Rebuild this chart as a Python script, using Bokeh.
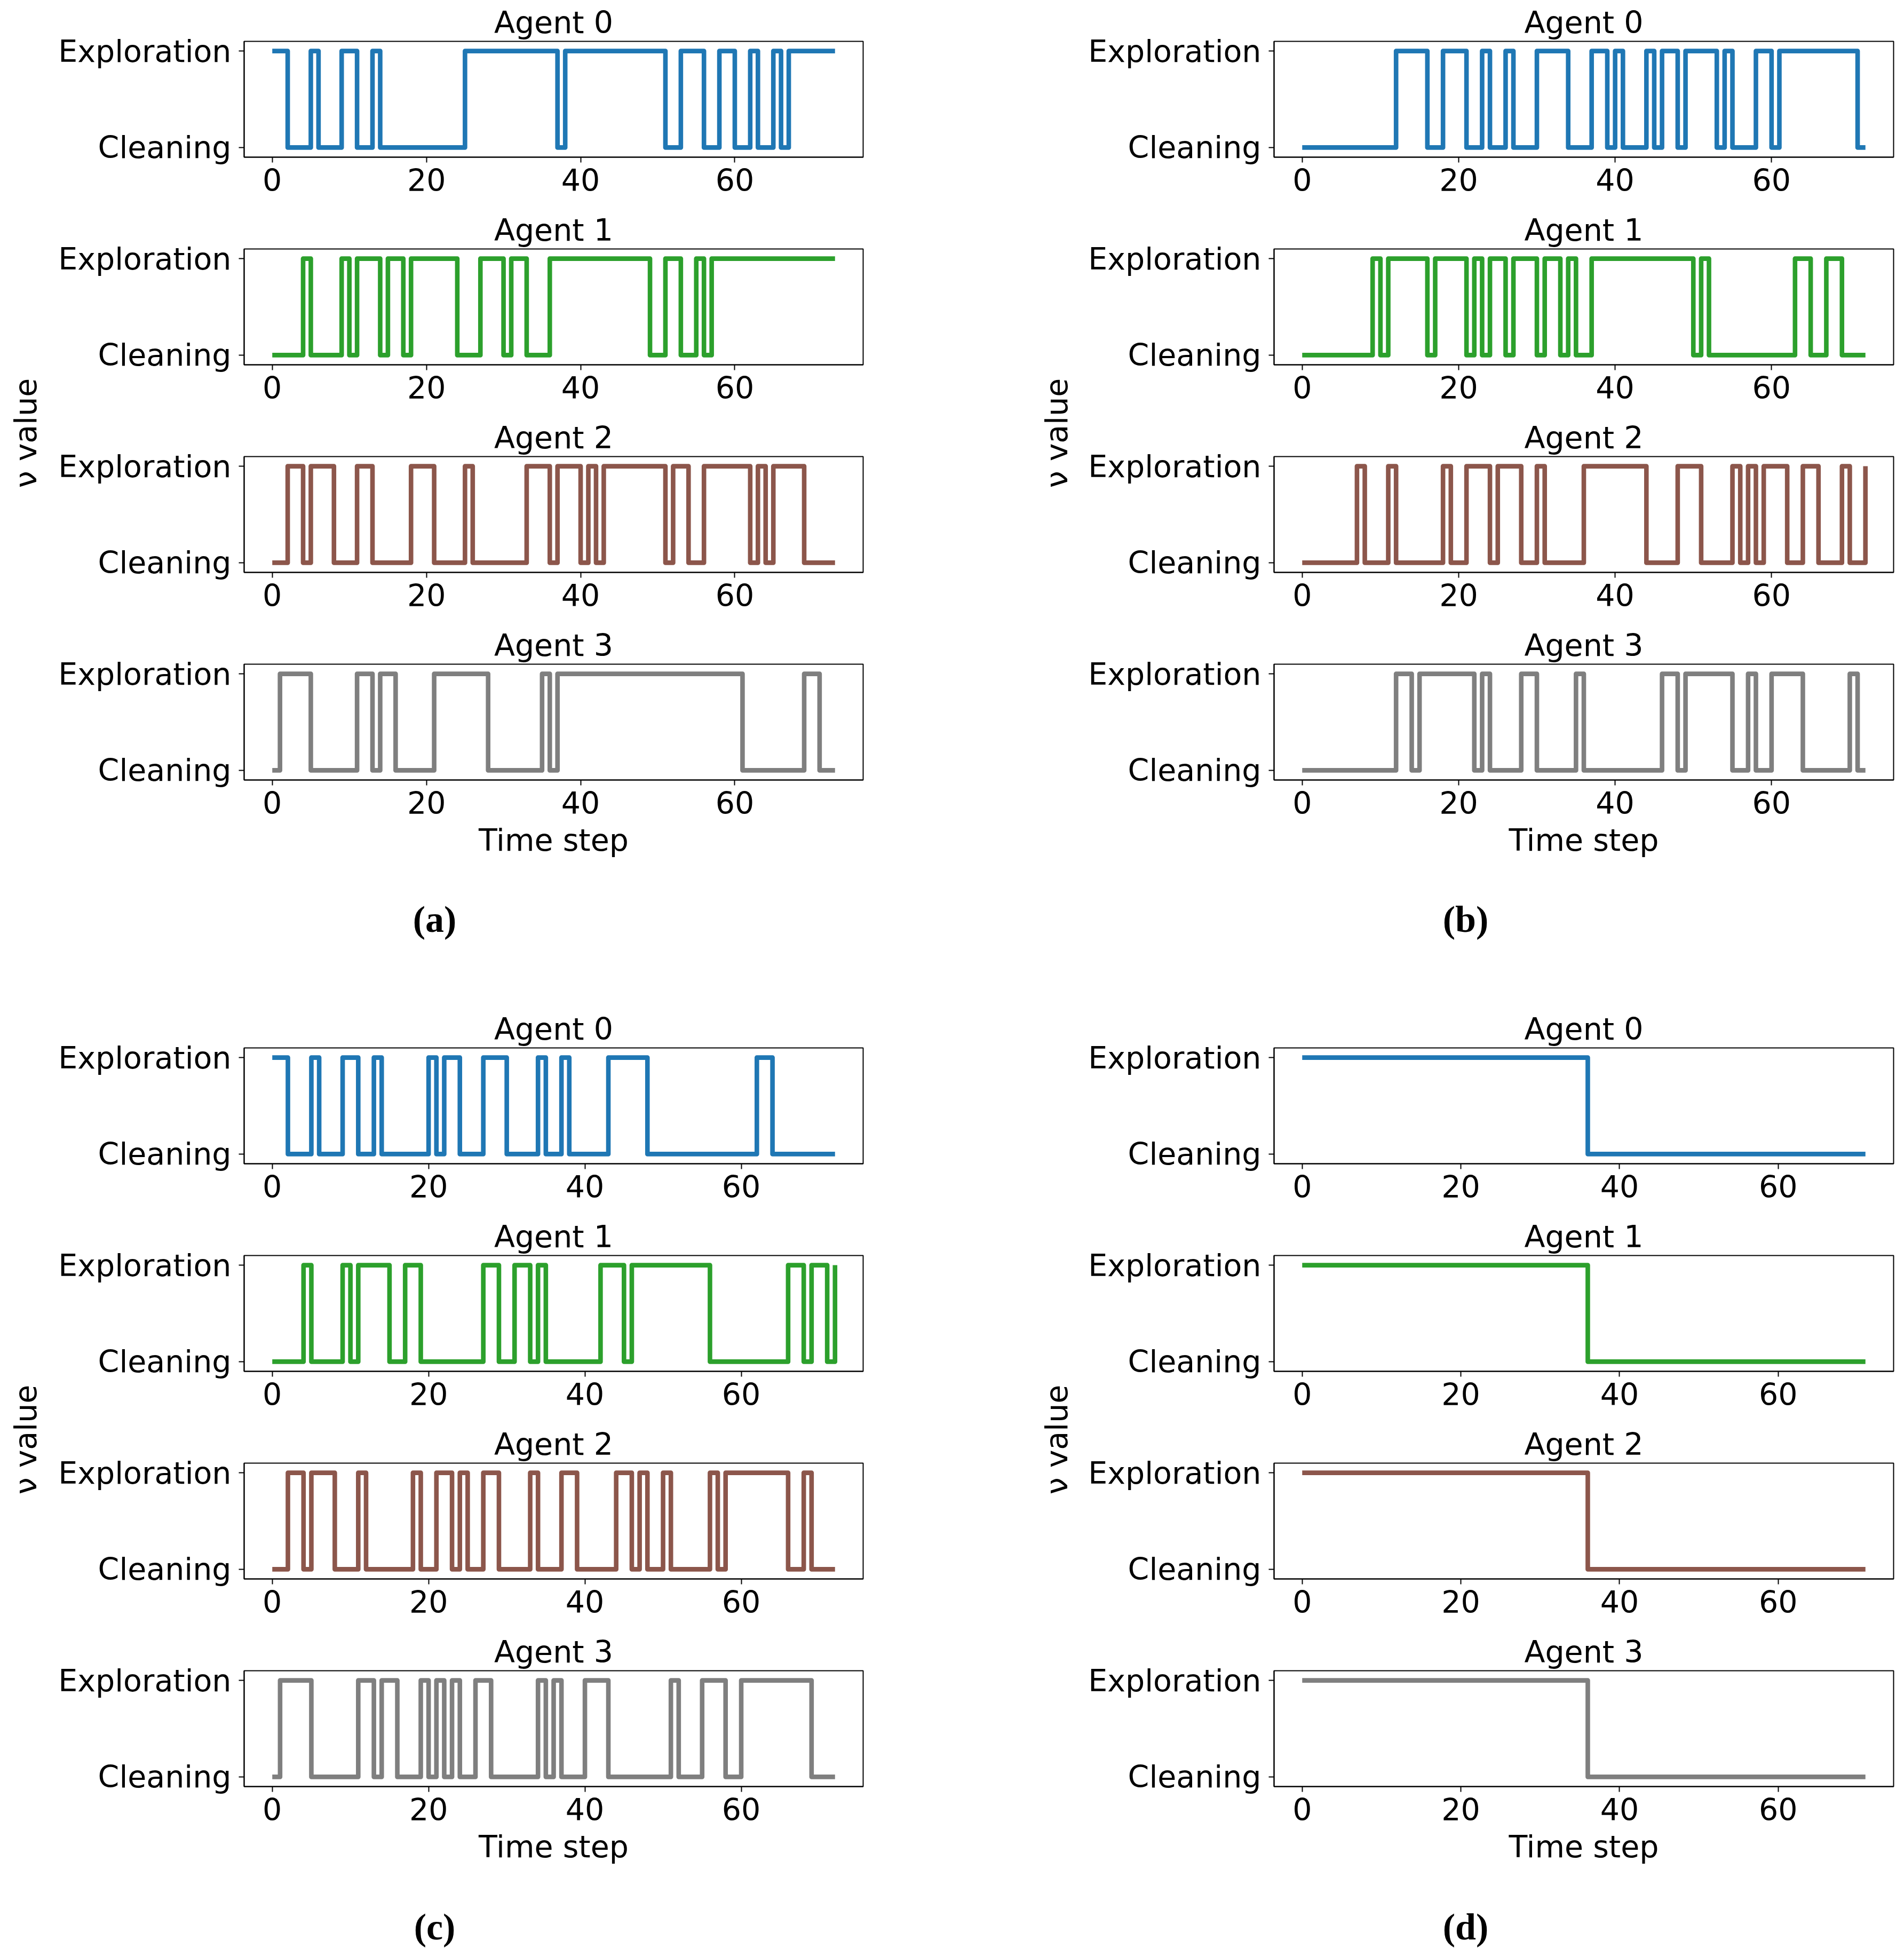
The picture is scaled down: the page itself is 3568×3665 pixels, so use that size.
import math
from bokeh.plotting import figure
from bokeh.layouts import row, column
from bokeh.models import Range1d, FixedTicker
from bokeh.embed import file_html
from bokeh.resources import INLINE
from bokeh.core.properties import value

# ---------------- data ----------------
AGENTS = ["Agent 0", "Agent 1", "Agent 2", "Agent 3"]
COLORS = ["#1f77b4", "#2ca02c", "#8c564b", "#7f7f7f"]
Y_TICKS = [0, 1]
Y_TICK_LABELS = ["Cleaning", "Exploration"]
X_TICKS = [0, 20, 40, 60]
X_LABEL = "Time step"
Y_LABEL = "ν value"
CAPTIONS = ["(a)", "(b)", "(c)", "(d)"]

# each agent: initial state (1 = Exploration, 0 = Cleaning) and the time steps where the state flips
a_last = 73
a_start = [1, 0, 0, 0]
a_switch = [
    [2, 5, 6, 9, 11, 13, 14, 25, 37, 38, 51, 53, 56, 58, 60, 62, 63, 65, 66, 67],
    [4, 5, 9, 10, 11, 14, 15, 17, 18, 24, 27, 30, 31, 33, 36, 49, 51, 53, 55, 56, 57],
    [2, 4, 5, 8, 11, 13, 18, 21, 25, 26, 33, 36, 37, 40, 41, 42, 43, 51, 52, 54, 56, 62, 63, 64, 65, 69],
    [1, 5, 11, 13, 14, 16, 21, 28, 35, 36, 37, 61, 69, 71],
]

b_last = 72
b_start = [0, 0, 0, 0]
b_switch = [
    [12, 16, 18, 21, 23, 24, 26, 27, 30, 34, 37, 39, 40, 41, 44, 45, 46, 48, 49, 53, 54, 55, 58, 60, 61, 71],
    [9, 10, 11, 16, 17, 21, 22, 23, 24, 26, 27, 30, 31, 33, 34, 35, 37, 50, 51, 52, 63, 65, 67, 69],
    [7, 8, 11, 12, 18, 19, 21, 24, 25, 28, 30, 31, 36, 44, 48, 51, 55, 56, 57, 58, 59, 62, 64, 66, 69, 70, 72],
    [12, 14, 15, 22, 23, 24, 28, 30, 35, 36, 46, 48, 49, 55, 57, 58, 60, 64, 70, 71],
]

c_last = 72
c_start = [1, 0, 0, 0]
c_switch = [
    [2, 5, 6, 9, 11, 13, 14, 20, 21, 22, 24, 27, 30, 34, 35, 37, 38, 43, 48, 62, 64],
    [4, 5, 9, 10, 11, 15, 17, 19, 27, 29, 31, 33, 34, 35, 42, 45, 46, 56, 66, 68, 69, 71, 72],
    [2, 4, 5, 8, 11, 12, 18, 19, 21, 23, 24, 25, 27, 29, 33, 34, 37, 39, 44, 46, 47, 48, 50, 51, 56, 57, 58, 66, 68, 69],
    [1, 5, 11, 13, 14, 16, 19, 20, 21, 22, 23, 24, 26, 28, 34, 35, 36, 37, 40, 43, 51, 52, 55, 58, 60, 69],
]

d_last = 71
d_start = [1, 1, 1, 1]
d_switch = [[36], [36], [36], [36]]

# ---------------- style ----------------
FONT = "DejaVu Sans"
FS = "57px"
LW = 8.6
FRAME_H = 217
ROW_H = 389
TOP_B = 77
LAST_EXTRA = 100


def series(start, switches, last):
    xs, ys = [], []
    s = start
    flips = set(switches)
    for t in range(last + 1):
        if t in flips:
            s = 1 - s
        xs.append(t)
        ys.append(s)
    return xs, ys


def agent_fig(k, start, switches, last, width, left, right, is_last):
    height = ROW_H + (LAST_EXTRA if is_last else 0)
    p = figure(width=width, height=height, output_backend="svg", toolbar_location=None,
               x_range=Range1d(-0.05 * last, 1.05 * last), y_range=Range1d(-0.1, 1.1),
               min_border_left=left, min_border_right=right, min_border_top=TOP_B,
               min_border_bottom=height - TOP_B - FRAME_H)
    xs, ys = series(start, switches, last)
    p.step(xs, ys, mode="after", line_color=COLORS[k], line_width=LW, line_join="round")
    p.title.text = AGENTS[k]
    p.title.align = "center"
    p.title.text_font = FONT
    p.title.text_font_size = FS
    p.title.text_font_style = "normal"
    p.title.text_color = "black"
    p.title.standoff = 5
    p.grid.visible = False
    p.outline_line_color = "black"
    p.outline_line_width = 2
    for ax in (p.xaxis[0], p.yaxis[0]):
        ax.axis_line_width = 2
        ax.axis_line_color = "black"
        ax.major_tick_line_width = 2
        ax.major_tick_line_color = "black"
        ax.major_tick_out = 10
        ax.major_tick_in = 0
        ax.minor_tick_out = 0
        ax.minor_tick_in = 0
        ax.major_label_text_font = FONT
        ax.major_label_text_font_size = FS
        ax.major_label_text_color = "black"
    p.xaxis.ticker = FixedTicker(ticks=X_TICKS, minor_ticks=[])
    p.xaxis.major_label_standoff = 11
    p.yaxis.ticker = FixedTicker(ticks=Y_TICKS, minor_ticks=[])
    p.yaxis.major_label_overrides = {t: lab for t, lab in zip(Y_TICKS, Y_TICK_LABELS)}
    p.yaxis.major_label_standoff = 14
    if is_last:
        p.xaxis.axis_label = X_LABEL
        p.xaxis.axis_label_text_font = FONT
        p.xaxis.axis_label_text_font_size = FS
        p.xaxis.axis_label_text_font_style = "normal"
        p.xaxis.axis_label_text_color = "black"
        p.xaxis.axis_label_standoff = 13
    return p


def text_fig(width, height, x, y, txt, font, size, angle=0.0, style="normal"):
    p = figure(width=width, height=height, output_backend="svg", toolbar_location=None,
               x_range=Range1d(0, width), y_range=Range1d(0, height),
               x_axis_type=None, y_axis_type=None, min_border=0)
    p.outline_line_color = None
    p.grid.visible = False
    p.text(x=[x], y=[y], text=[txt], angle=angle, text_align="center", text_baseline="middle",
           text_font=value(font), text_font_size=size, text_font_style=style, text_color="black")
    return p


def panel(caption, starts, switches, last, side, cap_h, cap_y):
    if side == "left":
        ylab_w, ylab_x, fig_w, left, right, cap_x = 98, 47, 1686, 359, 167, 814
    else:
        ylab_w, ylab_x, fig_w, left, right, cap_x = 240, 195, 1544, 363, 20, 962
    figs = [agent_fig(k, starts[k], switches[k], last, fig_w, left, right, k == 3) for k in range(4)]
    col_h = 3 * ROW_H + ROW_H + LAST_EXTRA
    ylab = text_fig(ylab_w, col_h, ylab_x, col_h - 811, Y_LABEL, FONT, FS, angle=math.pi / 2)
    cap = text_fig(ylab_w + fig_w, cap_h, cap_x, cap_y, caption, "Liberation Serif", "70px", style="bold")
    return column(row(ylab, column(*figs)), cap)


pa = panel(CAPTIONS[0], a_start, a_switch, a_last, "left", 230, 164)
pb = panel(CAPTIONS[1], b_start, b_switch, b_last, "right", 230, 164)
pc = panel(CAPTIONS[2], c_start, c_switch, c_last, "left", 123, 55)
pd = panel(CAPTIONS[3], d_start, d_switch, d_last, "right", 123, 55)

layout = column(row(pa, pb), row(pc, pd))

open("out.html", "w").write(file_html(layout, INLINE))
